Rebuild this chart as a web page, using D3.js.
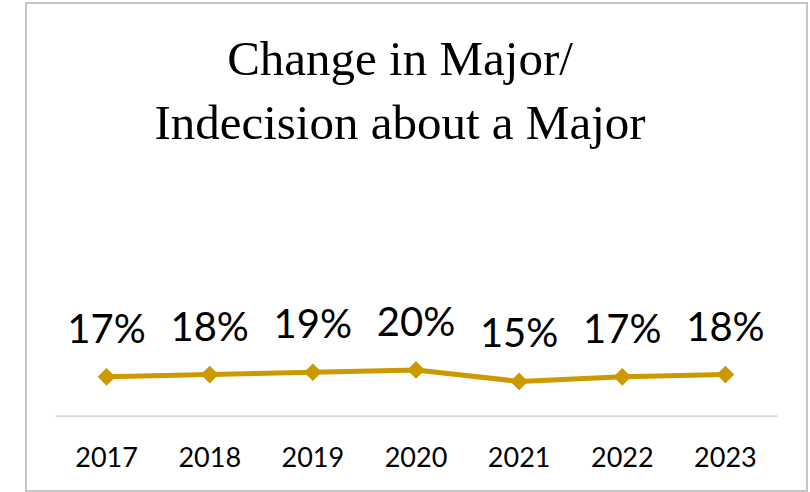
<!DOCTYPE html>
<html>
<head>
<meta charset="utf-8">
<script src="https://cdn.jsdelivr.net/npm/d3@7/dist/d3.min.js"></script>
<style>
  html, body { margin: 0; padding: 0; background: #ffffff; }
  svg { display: block; }
</style>
</head>
<body>
<svg id="chart" width="810" height="492"></svg>
<script>
const categories = ["2017", "2018", "2019", "2020", "2021", "2022", "2023"];
const values = [0.17, 0.18, 0.19, 0.20, 0.15, 0.17, 0.18];
const titleLines = ["Change in Major/", "Indecision about a Major"];

const svg = d3.select("#chart");

// chart border
svg.append("rect")
  .attr("x", 26).attr("y", 3)
  .attr("width", 781).attr("height", 488)
  .attr("fill", "#ffffff")
  .attr("stroke", "#c6c6c6")
  .attr("stroke-width", 2);

// title
const title = svg.append("text")
  .attr("text-anchor", "middle")
  .attr("font-family", "'Liberation Serif', 'Times New Roman', serif")
  .attr("font-size", 49)
  .attr("fill", "#000000");
titleLines.forEach((t, i) => {
  title.append("tspan").attr("x", 400).attr("y", 75 + i * 64).text(t);
});

const plotLeft = 55, plotRight = 777, plotBottom = 415.7, plotTop = 187;

const x = d3.scaleBand().domain(categories).range([plotLeft, plotRight]);
const y = d3.scaleLinear().domain([0, 1]).range([plotBottom, plotTop]);

// category axis
const xAxis = d3.axisBottom(x).tickSize(0).tickPadding(0);
const gx = svg.append("g").attr("transform", `translate(0,${plotBottom})`).call(xAxis);
gx.select(".domain").attr("stroke", "#d9d9d9").attr("stroke-width", 2);
gx.selectAll("text")
  .attr("font-family", "Lato, 'Open Sans', sans-serif")
  .attr("font-size", 27)
  .attr("fill", "#000000")
  .attr("dy", null)
  .attr("y", 51);

const cx = d => x(d) + x.bandwidth() / 2;
const data = categories.map((c, i) => ({ c, v: values[i] }));

// line
svg.append("path")
  .datum(data)
  .attr("fill", "none")
  .attr("stroke", "#cc9900")
  .attr("stroke-width", 5)
  .attr("stroke-linejoin", "round")
  .attr("d", d3.line().x(d => cx(d.c)).y(d => y(d.v)));

// markers (diamonds)
svg.selectAll(".marker")
  .data(data)
  .enter().append("path")
  .attr("class", "marker")
  .attr("transform", d => `translate(${cx(d.c)},${y(d.v)})`)
  .attr("d", d3.symbol().type(d3.symbolDiamond2).size(200))
  .attr("fill", "#cc9900");

// data labels
svg.selectAll(".label")
  .data(data)
  .enter().append("text")
  .attr("class", "label")
  .attr("x", d => cx(d.c))
  .attr("y", d => y(d.v) - 34)
  .attr("text-anchor", "middle")
  .attr("font-family", "Lato, 'Open Sans', sans-serif")
  .attr("font-size", 40)
  .attr("fill", "#000000")
  .text(d => d3.format(".0%")(d.v));
</script>
</body>
</html>
